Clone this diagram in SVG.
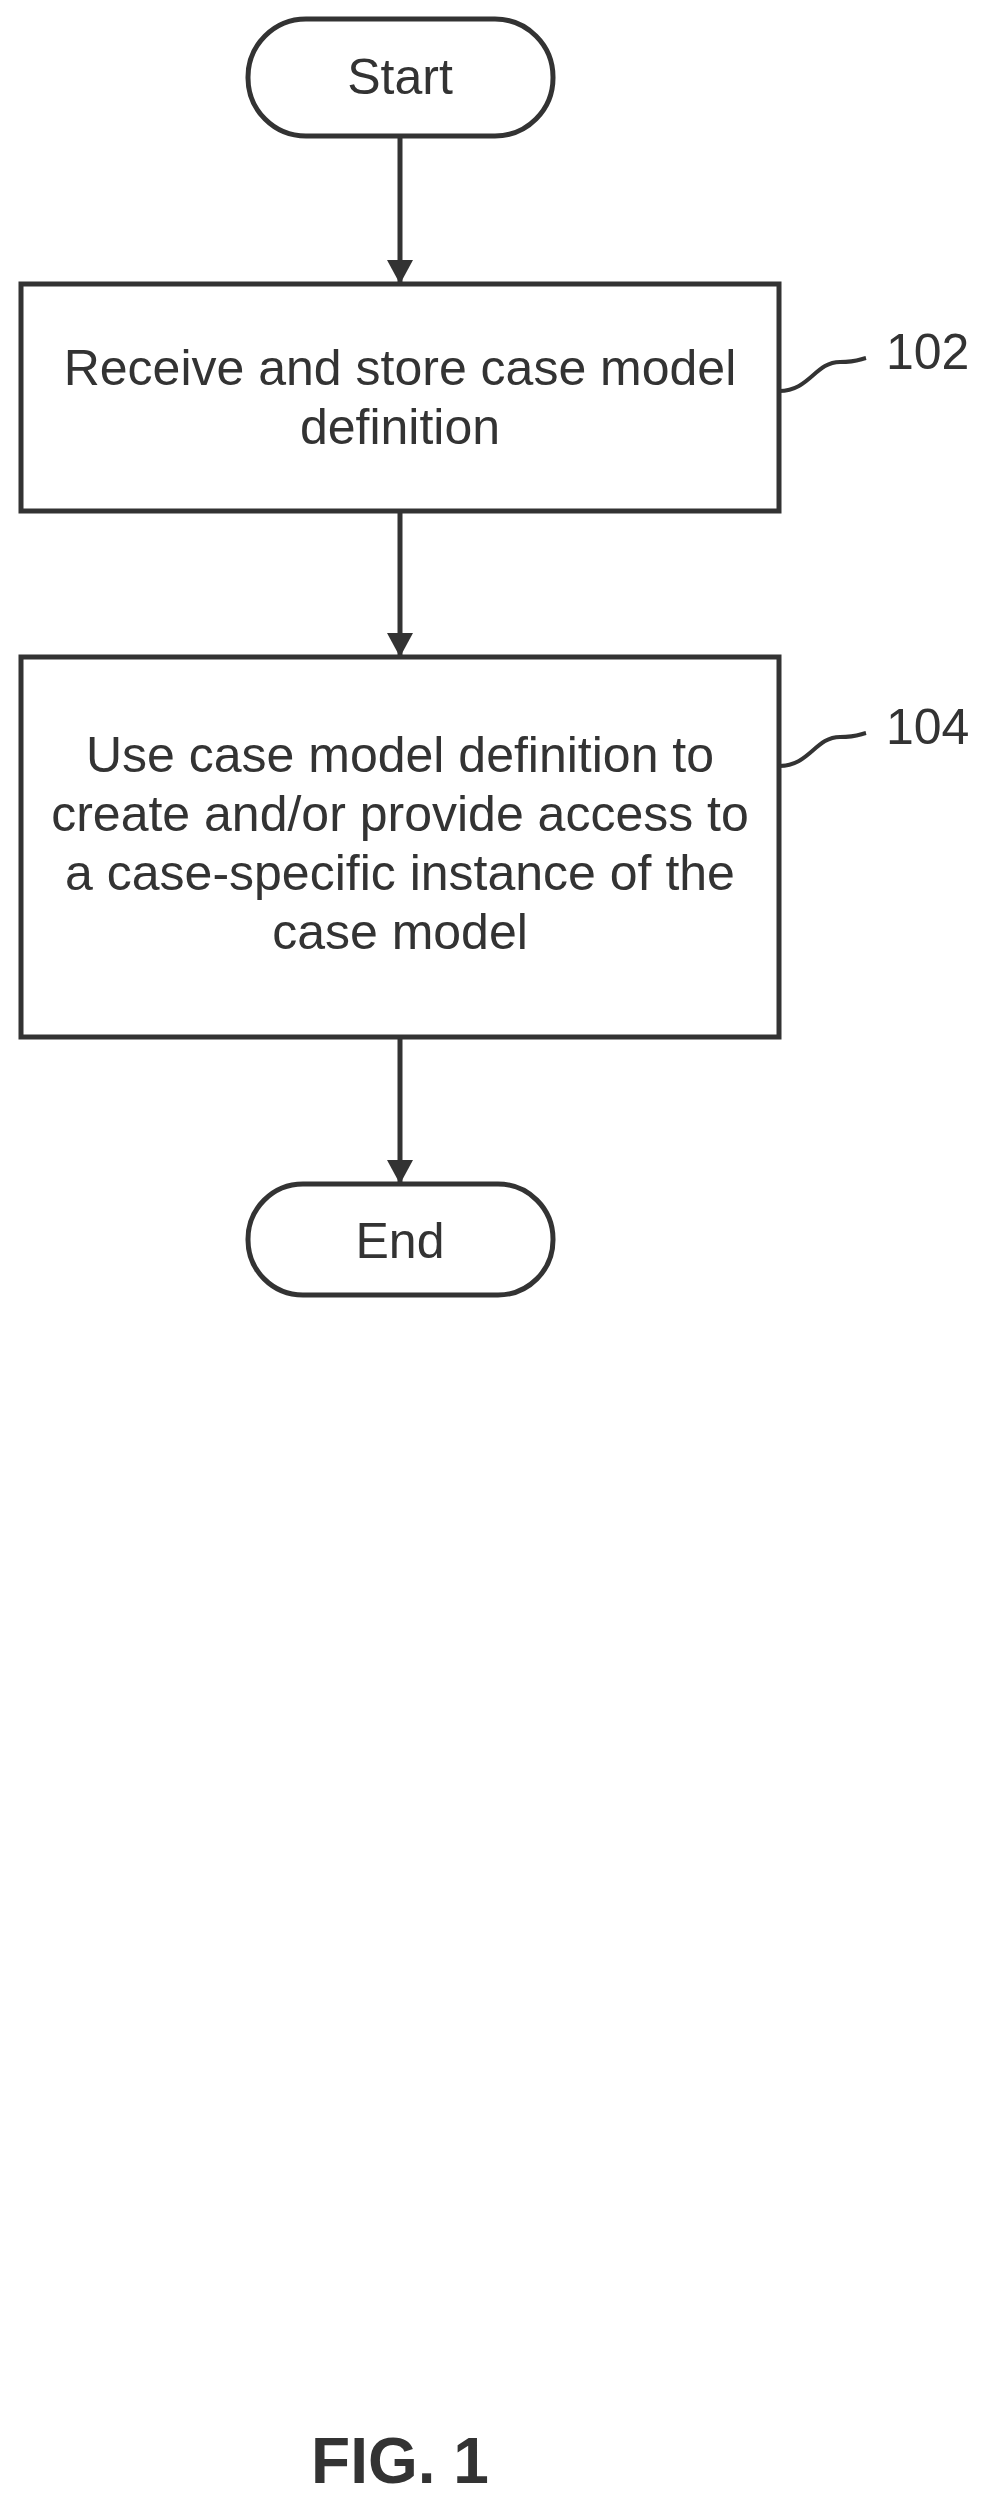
<svg xmlns="http://www.w3.org/2000/svg" width="981" height="2501" viewBox="0 0 981 2501">
<style>
.s{fill:#fff;stroke:#333;stroke-width:5}
.t{font-family:"Liberation Sans",Arial,sans-serif;font-size:50px;fill:#333;text-anchor:middle}
.l{fill:none;stroke:#333;stroke-width:4}
</style>
<defs><marker id="a" markerWidth="24" markerHeight="26" refX="22" refY="13" orient="auto" markerUnits="userSpaceOnUse" viewBox="0 0 24 26"><path d="M0,0 L24,13 L0,26 z" fill="#333"/></marker></defs>
<rect width="981" height="2501" fill="#fff"/>
<g id="connectors">
<line class="l" x1="400" y1="136" x2="400" y2="282" marker-end="url(#a)" style="stroke-width:5"/>
<line class="l" x1="400" y1="511" x2="400" y2="655" marker-end="url(#a)" style="stroke-width:5"/>
<line class="l" x1="400" y1="1037" x2="400" y2="1182" marker-end="url(#a)" style="stroke-width:5"/>
<path class="l" d="M779,391 C810,391 815,362 840,362 C855,362 858,360 866,358"/>
<path class="l" d="M779,766 C810,766 815,737 840,737 C855,737 858,735 866,733"/>
</g>
<g id="start"><rect class="s" x="248" y="19" width="305" height="117" rx="58"/><text class="t" x="400" y="94">Start</text></g>
<g id="n102"><rect class="s" x="21" y="284" width="758" height="227"/><text class="t" x="400" y="385">Receive and store case model</text><text class="t" x="400" y="444">definition</text></g>
<g id="n104"><rect class="s" x="21" y="657" width="758" height="380"/><text class="t" x="400" y="772">Use case model definition to</text><text class="t" x="400" y="831">create and/or provide access to</text><text class="t" x="400" y="890">a case-specific instance of the</text><text class="t" x="400" y="949">case model</text></g>
<g id="end"><rect class="s" x="248" y="1184" width="305" height="111" rx="55"/><text class="t" x="400" y="1258">End</text></g>
<text class="t" x="886" y="369" style="text-anchor:start">102</text>
<text class="t" x="886" y="744" style="text-anchor:start">104</text>
<text class="t" x="400" y="2483" style="font-size:64px;font-weight:bold">FIG. 1</text>
</svg>
